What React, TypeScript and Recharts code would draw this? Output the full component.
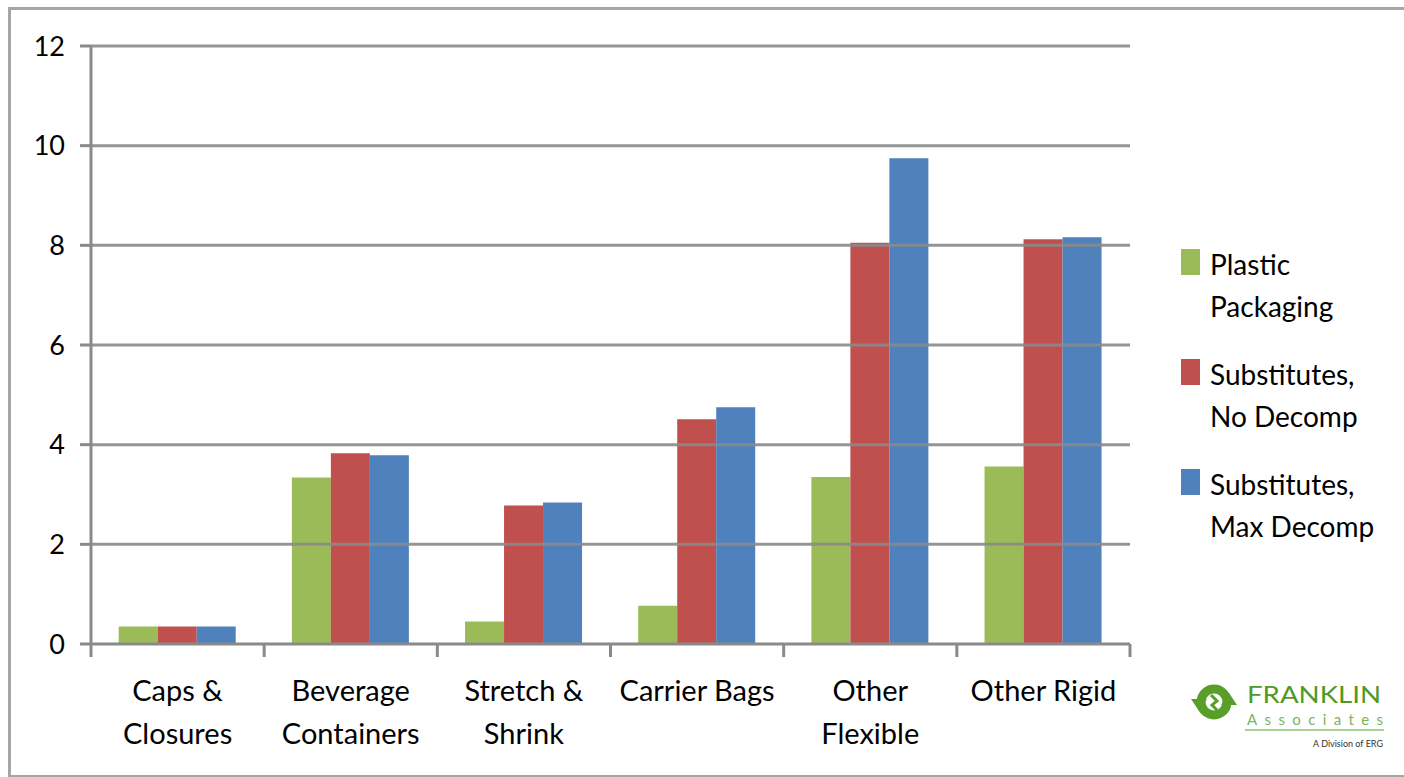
import React from 'react';
import { BarChart, Bar, XAxis, YAxis, ReferenceLine } from 'recharts';

const categories = [
  'Caps &\nClosures',
  'Beverage\nContainers',
  'Stretch &\nShrink',
  'Carrier Bags',
  'Other\nFlexible',
  'Other Rigid',
];
const plasticPackaging = [0.35, 3.34, 0.45, 0.77, 3.35, 3.56];
const substitutesNoDecomp = [0.35, 3.83, 2.78, 4.51, 8.05, 8.12];
const substitutesMaxDecomp = [0.35, 3.79, 2.84, 4.75, 9.75, 8.16];
const yTicks = [0, 2, 4, 6, 8, 10, 12];

const seriesInfo = [
  { key: 'plastic', label: ['Plastic', 'Packaging'], color: '#9BBB59' },
  { key: 'noDecomp', label: ['Substitutes,', 'No Decomp'], color: '#C0504D' },
  { key: 'maxDecomp', label: ['Substitutes,', 'Max Decomp'], color: '#4F81BD' },
];

const data = categories.map((name, i) => ({
  name,
  plastic: plasticPackaging[i],
  noDecomp: substitutesNoDecomp[i],
  maxDecomp: substitutesMaxDecomp[i],
}));

const FONT = 'Lato, "Open Sans", sans-serif';
const AXIS_GRAY = '#8a8a8a';
const FRAME = '3px solid #a6a6a6';

// category label in up to two lines, plus the divider tick at the left edge of the band
const CategoryTick = (props: any) => {
  const { x, y, payload, index, visibleTicksCount } = props;
  const half = payload.offset ?? 0;
  const lines = String(payload.value).split('\n');
  return (
    <g>
      <line x1={x - half} x2={x - half} y1={y - 8} y2={y + 5} stroke={AXIS_GRAY} strokeWidth={3} />
      {index === visibleTicksCount - 1 && (
        <line x1={x + half} x2={x + half} y1={y - 8} y2={y + 5} stroke={AXIS_GRAY} strokeWidth={3} />
      )}
      {lines.map((ln, i) => (
        <text
          key={i}
          x={x}
          y={y + 49 + i * 43}
          textAnchor="middle"
          fontFamily={FONT}
          fontSize={29}
          fill="#000"
        >
          {ln}
        </text>
      ))}
    </g>
  );
};

const LegendBox = () => (
  <div style={{ position: 'absolute', left: 1181, top: 249, fontFamily: FONT, fontSize: 28, color: '#000' }}>
    {seriesInfo.map((s) => (
      <div key={s.key} style={{ position: 'relative', height: 110 }}>
        <div
          style={{
            position: 'absolute',
            left: 0,
            top: 0,
            width: 19,
            height: 26,
            background: s.color,
          }}
        />
        <div style={{ position: 'absolute', left: 29, top: -6, lineHeight: '42px', whiteSpace: 'nowrap' }}>
          {s.label[0]}
          <br />
          {s.label[1]}
        </div>
      </div>
    ))}
  </div>
);

const FranklinLogo = () => (
  <svg width={200} height={72} style={{ position: 'absolute', left: 1188, top: 680 }}>
    <g transform="translate(26,22)">
      <circle cx={0} cy={0} r={13} fill="none" stroke="#5a9e2a" strokeWidth={9} />
      <path d="M -23 -3 L -7 -3 L -15 9 Z" fill="#5a9e2a" />
      <path d="M 23 3 L 7 3 L 15 -9 Z" fill="#5a9e2a" />
      <path d="M -3 -7 L 3 -1 L -2 3 L 3 8" fill="none" stroke="#5a9e2a" strokeWidth={3} />
    </g>
    <text x={59} y={23} fontFamily={FONT} fontSize={24} fill="#4f9a24" textLength={134} lengthAdjust="spacingAndGlyphs">
      FRANKLIN
    </text>
    <text x={59} y={45} fontFamily={FONT} fontSize={15} fill="#7ab65a" textLength={136} lengthAdjust="spacing">
      Associates
    </text>
    <line x1={57} x2={196} y1={50} y2={50} stroke="#8cc070" strokeWidth={1.5} />
    <text x={195} y={67} textAnchor="end" fontFamily={FONT} fontSize={9} fill="#333">
      A Division of ERG
    </text>
  </svg>
);

export default function App() {
  return (
    <div
      style={{
        position: 'fixed',
        left: 0,
        top: 0,
        width: 1404,
        height: 777,
        background: '#fff',
        overflow: 'hidden',
      }}
    >
      {/* outer frame, open on the right */}
      <div
        style={{
          position: 'absolute',
          left: 8,
          top: 7,
          right: 0,
          height: 771,
          borderTop: FRAME,
          borderLeft: FRAME,
          borderBottom: FRAME,
          boxSizing: 'border-box',
        }}
      />
      <BarChart
        width={1404}
        height={777}
        data={data}
        margin={{ top: 46, right: 274, left: 0, bottom: 0 }}
        barCategoryGap="16%"
        barGap={0}
      >
        <XAxis
          dataKey="name"
          height={133}
          interval={0}
          axisLine={{ stroke: AXIS_GRAY, strokeWidth: 3 }}
          tickLine={false}
          tick={<CategoryTick />}
        />
        <YAxis
          width={91}
          domain={[0, 12]}
          ticks={yTicks}
          interval={0}
          axisLine={{ stroke: AXIS_GRAY, strokeWidth: 3 }}
          tickLine={{ stroke: AXIS_GRAY, strokeWidth: 3 }}
          tickSize={11}
          tickMargin={15}
          tick={{ fontFamily: FONT, fontSize: 27, fill: '#000' }}
        />
        {seriesInfo.map((s) => (
          <Bar key={s.key} dataKey={s.key} fill={s.color} isAnimationActive={false} />
        ))}
        {yTicks.slice(1).map((t) => (
          <ReferenceLine key={t} y={t} stroke={AXIS_GRAY} strokeWidth={3} strokeOpacity={0.9} />
        ))}
      </BarChart>
      <LegendBox />
      <FranklinLogo />
    </div>
  );
}
